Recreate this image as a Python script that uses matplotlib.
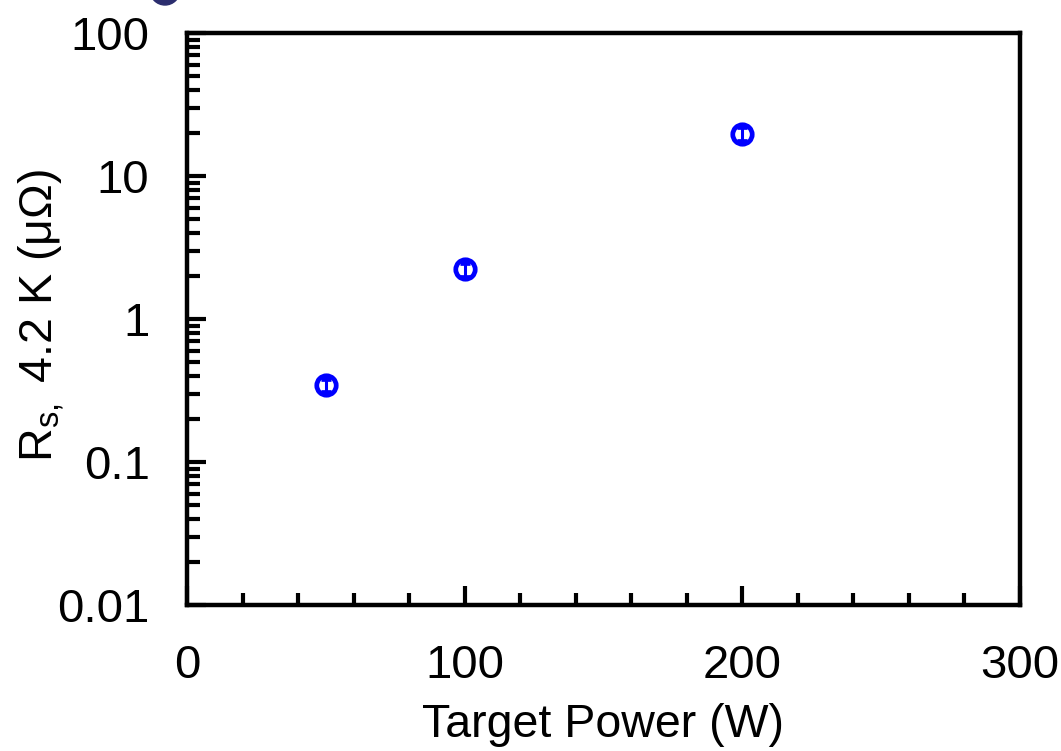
import matplotlib
matplotlib.use("Agg")
import matplotlib.pyplot as plt
from matplotlib.patches import Ellipse
from matplotlib.ticker import FixedLocator, LogLocator, NullFormatter

plt.rcParams['font.family'] = ['Liberation Sans', 'DejaVu Sans']

power = [50, 100, 200]
rs = [0.345, 2.22, 19.7]
rs_err = [0.035, 0.25, 2.2]

x_ticks = [0, 100, 200, 300]
y_ticks = [0.01, 0.1, 1, 10, 100]
y_ticklabels = ['0.01', '0.1', '1', '10', '100']

W, H = 1061, 751
fig = plt.figure(figsize=(W / 100, H / 100), dpi=100)
ax = fig.add_axes([187 / W, 1 - 605 / H, (1020 - 187) / W, (605 - 33) / H])

ax.errorbar(power, rs, yerr=rs_err, fmt='o', mfc='none', mec='#0000ff',
            mew=3.4, ms=14, ecolor='#0000ff', elinewidth=2.2, capsize=3.5,
            capthick=2.2, zorder=3)

ax.set_xscale('linear')
ax.set_yscale('log')
ax.set_xlim(0, 300)
ax.set_ylim(0.01, 100)
ax.set_xticks(x_ticks)
ax.xaxis.set_minor_locator(FixedLocator([v for v in range(20, 300, 20) if v % 100 != 0]))
ax.set_yticks(y_ticks)
ax.set_yticklabels(y_ticklabels)
ax.yaxis.set_minor_locator(LogLocator(base=10, subs=range(2, 10), numticks=20))
ax.yaxis.set_minor_formatter(NullFormatter())

ax.tick_params(axis='both', which='major', direction='in', labelsize=34,
               width=3, length=14, top=False, right=False)
ax.tick_params(axis='both', which='minor', direction='in',
               width=3, length=9, top=False, right=False)
ax.tick_params(axis='y', which='major', pad=27)
ax.tick_params(axis='x', which='major', pad=28)

for s in ax.spines.values():
    s.set_linewidth(3.2)

ax.set_xlabel('Target Power (W)', fontsize=33.5, labelpad=11)
fig.text(42 / W, 1 - 315 / H, r'R$_{\mathregular{s,}}$ 4.2 K (μΩ)', fontsize=33.5,
         rotation=90, ha='center', va='center')

fig.patches.append(Ellipse((165 / W, 1 + 10 / H), 30 / W, 30 / H,
                           transform=fig.transFigure, color='#2b2d6e',
                           clip_on=False))

fig.savefig('out.png', dpi=100)
